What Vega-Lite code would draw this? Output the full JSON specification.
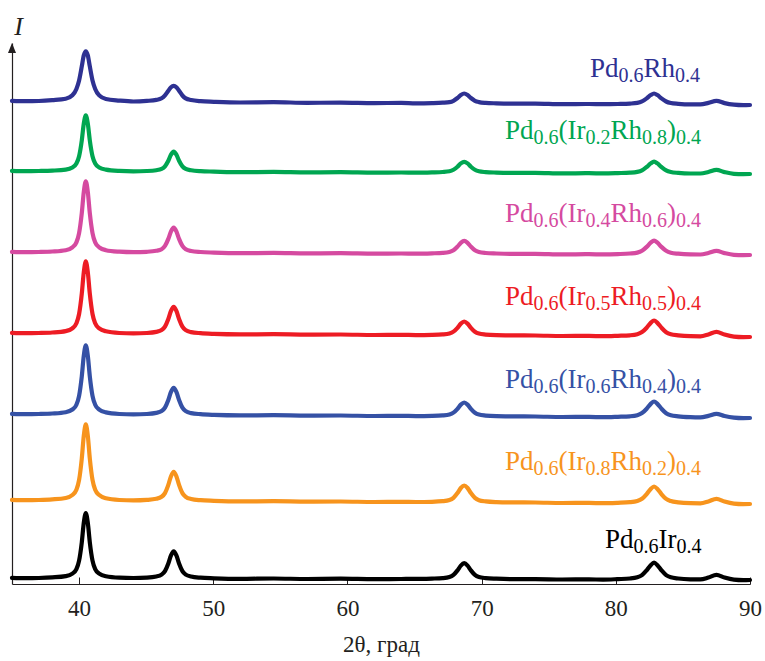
{
  "$schema": "https://vega.github.io/schema/vega-lite/v6.json",
  "autosize": "none",
  "width": 738,
  "height": 541,
  "padding": {"left": 12, "top": 43, "right": 15, "bottom": 77},
  "background": "white",
  "config": {"view": {"stroke": null}},
  "datasets": {
    "curves": [
      {"s":"PdRh","x":35,"y":483.2},{"s":"PdRh","x":36,"y":482.8},{"s":"PdRh","x":37,"y":483.0},{"s":"PdRh","x":38,"y":483.8},{"s":"PdRh","x":39,"y":485.2},{"s":"PdRh","x":39.5,"y":488.7},{"s":"PdRh","x":39.8,"y":495.1},{"s":"PdRh","x":40,"y":503.6},{"s":"PdRh","x":40.2,"y":517.6},{"s":"PdRh","x":40.35,"y":528.6},{"s":"PdRh","x":40.5,"y":532.6},{"s":"PdRh","x":40.65,"y":528.6},{"s":"PdRh","x":40.8,"y":517.6},{"s":"PdRh","x":41,"y":503.6},{"s":"PdRh","x":41.2,"y":495.1},{"s":"PdRh","x":41.5,"y":488.6},{"s":"PdRh","x":42,"y":485.0},{"s":"PdRh","x":43,"y":483.4},{"s":"PdRh","x":44.05,"y":482.5},{"s":"PdRh","x":45.05,"y":483.1},{"s":"PdRh","x":45.75,"y":484.1},{"s":"PdRh","x":46.15,"y":485.7},{"s":"PdRh","x":46.4,"y":488.6},{"s":"PdRh","x":46.65,"y":493.3},{"s":"PdRh","x":46.85,"y":496.8},{"s":"PdRh","x":47.05,"y":498.1},{"s":"PdRh","x":47.25,"y":496.8},{"s":"PdRh","x":47.45,"y":493.3},{"s":"PdRh","x":47.7,"y":488.5},{"s":"PdRh","x":47.95,"y":485.6},{"s":"PdRh","x":48.35,"y":484.0},{"s":"PdRh","x":49.05,"y":482.8},{"s":"PdRh","x":50.05,"y":482.2},{"s":"PdRh","x":52,"y":481.5},{"s":"PdRh","x":54.5,"y":481.8},{"s":"PdRh","x":57,"y":481.2},{"s":"PdRh","x":59.5,"y":481.4},{"s":"PdRh","x":62,"y":480.9},{"s":"PdRh","x":64,"y":481.1},{"s":"PdRh","x":65.1,"y":480.7},{"s":"PdRh","x":66.3,"y":480.9},{"s":"PdRh","x":67.1,"y":481.3},{"s":"PdRh","x":67.6,"y":481.9},{"s":"PdRh","x":67.9,"y":483.2},{"s":"PdRh","x":68.2,"y":486.0},{"s":"PdRh","x":68.45,"y":489.0},{"s":"PdRh","x":68.7,"y":490.5},{"s":"PdRh","x":68.95,"y":489.0},{"s":"PdRh","x":69.2,"y":486.0},{"s":"PdRh","x":69.5,"y":483.2},{"s":"PdRh","x":69.8,"y":481.9},{"s":"PdRh","x":70.3,"y":481.1},{"s":"PdRh","x":71.1,"y":480.7},{"s":"PdRh","x":72.3,"y":480.4},{"s":"PdRh","x":74,"y":480.4},{"s":"PdRh","x":76,"y":479.8},{"s":"PdRh","x":78,"y":480.0},{"s":"PdRh","x":79.05,"y":479.8},{"s":"PdRh","x":80.15,"y":480.0},{"s":"PdRh","x":81.05,"y":480.4},{"s":"PdRh","x":81.6,"y":481.1},{"s":"PdRh","x":81.95,"y":482.6},{"s":"PdRh","x":82.3,"y":485.6},{"s":"PdRh","x":82.6,"y":488.9},{"s":"PdRh","x":82.85,"y":490.5},{"s":"PdRh","x":83.1,"y":488.9},{"s":"PdRh","x":83.4,"y":485.6},{"s":"PdRh","x":83.75,"y":482.5},{"s":"PdRh","x":84.1,"y":481.0},{"s":"PdRh","x":84.65,"y":480.2},{"s":"PdRh","x":85.55,"y":479.6},{"s":"PdRh","x":86.3,"y":479.6},{"s":"PdRh","x":86.9,"y":481.1},{"s":"PdRh","x":87.5,"y":483.2},{"s":"PdRh","x":88.1,"y":480.9},{"s":"PdRh","x":88.8,"y":479.3},{"s":"PdRh","x":89.5,"y":478.8},{"s":"PdRh","x":90,"y":479.0},

      {"s":"Ir02","x":35,"y":413.2},{"s":"Ir02","x":36,"y":412.8},{"s":"Ir02","x":37,"y":413.0},{"s":"Ir02","x":38,"y":413.4},{"s":"Ir02","x":39,"y":414.4},{"s":"Ir02","x":39.5,"y":416.6},{"s":"Ir02","x":39.8,"y":420.5},{"s":"Ir02","x":40,"y":427.8},{"s":"Ir02","x":40.2,"y":443.5},{"s":"Ir02","x":40.35,"y":460.3},{"s":"Ir02","x":40.5,"y":468.7},{"s":"Ir02","x":40.65,"y":460.3},{"s":"Ir02","x":40.8,"y":443.5},{"s":"Ir02","x":41,"y":427.8},{"s":"Ir02","x":41.2,"y":420.5},{"s":"Ir02","x":41.5,"y":416.6},{"s":"Ir02","x":42,"y":414.4},{"s":"Ir02","x":43,"y":413.1},{"s":"Ir02","x":44.05,"y":412.7},{"s":"Ir02","x":45.05,"y":413.0},{"s":"Ir02","x":45.75,"y":413.8},{"s":"Ir02","x":46.15,"y":415.1},{"s":"Ir02","x":46.4,"y":417.7},{"s":"Ir02","x":46.65,"y":423.3},{"s":"Ir02","x":46.85,"y":429.3},{"s":"Ir02","x":47.05,"y":432.3},{"s":"Ir02","x":47.25,"y":429.3},{"s":"Ir02","x":47.45,"y":423.3},{"s":"Ir02","x":47.7,"y":417.7},{"s":"Ir02","x":47.95,"y":415.1},{"s":"Ir02","x":48.35,"y":413.7},{"s":"Ir02","x":49.05,"y":412.8},{"s":"Ir02","x":50.05,"y":412.4},{"s":"Ir02","x":52,"y":411.8},{"s":"Ir02","x":54.5,"y":412.1},{"s":"Ir02","x":57,"y":411.6},{"s":"Ir02","x":59.5,"y":411.8},{"s":"Ir02","x":62,"y":411.3},{"s":"Ir02","x":64,"y":411.5},{"s":"Ir02","x":65.1,"y":411.3},{"s":"Ir02","x":66.3,"y":411.6},{"s":"Ir02","x":67.1,"y":412.0},{"s":"Ir02","x":67.6,"y":412.7},{"s":"Ir02","x":67.9,"y":414.2},{"s":"Ir02","x":68.2,"y":417.3},{"s":"Ir02","x":68.45,"y":420.6},{"s":"Ir02","x":68.7,"y":422.2},{"s":"Ir02","x":68.95,"y":420.6},{"s":"Ir02","x":69.2,"y":417.3},{"s":"Ir02","x":69.5,"y":414.2},{"s":"Ir02","x":69.8,"y":412.7},{"s":"Ir02","x":70.3,"y":411.9},{"s":"Ir02","x":71.1,"y":411.4},{"s":"Ir02","x":72.3,"y":411.1},{"s":"Ir02","x":74,"y":411.2},{"s":"Ir02","x":76,"y":410.6},{"s":"Ir02","x":78,"y":410.8},{"s":"Ir02","x":79.05,"y":410.6},{"s":"Ir02","x":80.15,"y":410.9},{"s":"Ir02","x":81.05,"y":411.3},{"s":"Ir02","x":81.6,"y":412.1},{"s":"Ir02","x":81.95,"y":413.6},{"s":"Ir02","x":82.3,"y":417.0},{"s":"Ir02","x":82.6,"y":420.6},{"s":"Ir02","x":82.85,"y":422.4},{"s":"Ir02","x":83.1,"y":420.6},{"s":"Ir02","x":83.4,"y":417.0},{"s":"Ir02","x":83.75,"y":413.6},{"s":"Ir02","x":84.1,"y":412.0},{"s":"Ir02","x":84.65,"y":411.1},{"s":"Ir02","x":85.55,"y":410.5},{"s":"Ir02","x":86.3,"y":410.5},{"s":"Ir02","x":86.9,"y":412.0},{"s":"Ir02","x":87.5,"y":414.1},{"s":"Ir02","x":88.1,"y":411.9},{"s":"Ir02","x":88.8,"y":410.2},{"s":"Ir02","x":89.5,"y":409.9},{"s":"Ir02","x":90,"y":410.0},

      {"s":"Ir04","x":35,"y":332.2},{"s":"Ir04","x":36,"y":331.8},{"s":"Ir04","x":37,"y":332.0},{"s":"Ir04","x":38,"y":332.5},{"s":"Ir04","x":39,"y":333.8},{"s":"Ir04","x":39.5,"y":336.7},{"s":"Ir04","x":39.8,"y":341.6},{"s":"Ir04","x":40,"y":350.9},{"s":"Ir04","x":40.2,"y":370.7},{"s":"Ir04","x":40.35,"y":392.1},{"s":"Ir04","x":40.5,"y":402.7},{"s":"Ir04","x":40.65,"y":392.1},{"s":"Ir04","x":40.8,"y":370.7},{"s":"Ir04","x":41,"y":350.9},{"s":"Ir04","x":41.2,"y":341.6},{"s":"Ir04","x":41.5,"y":336.7},{"s":"Ir04","x":42,"y":333.8},{"s":"Ir04","x":43,"y":332.3},{"s":"Ir04","x":44.05,"y":331.8},{"s":"Ir04","x":45.05,"y":332.2},{"s":"Ir04","x":45.75,"y":333.2},{"s":"Ir04","x":46.15,"y":334.8},{"s":"Ir04","x":46.4,"y":338.1},{"s":"Ir04","x":46.65,"y":345.1},{"s":"Ir04","x":46.85,"y":352.6},{"s":"Ir04","x":47.05,"y":356.3},{"s":"Ir04","x":47.25,"y":352.6},{"s":"Ir04","x":47.45,"y":345.1},{"s":"Ir04","x":47.7,"y":338.1},{"s":"Ir04","x":47.95,"y":334.8},{"s":"Ir04","x":48.35,"y":333.0},{"s":"Ir04","x":49.05,"y":332.0},{"s":"Ir04","x":50.05,"y":331.4},{"s":"Ir04","x":52,"y":330.8},{"s":"Ir04","x":54.5,"y":331.1},{"s":"Ir04","x":57,"y":330.6},{"s":"Ir04","x":59.5,"y":330.8},{"s":"Ir04","x":62,"y":330.3},{"s":"Ir04","x":64,"y":330.5},{"s":"Ir04","x":65.1,"y":330.4},{"s":"Ir04","x":66.3,"y":330.7},{"s":"Ir04","x":67.1,"y":331.1},{"s":"Ir04","x":67.6,"y":332.0},{"s":"Ir04","x":67.9,"y":333.7},{"s":"Ir04","x":68.2,"y":337.4},{"s":"Ir04","x":68.45,"y":341.2},{"s":"Ir04","x":68.7,"y":343.2},{"s":"Ir04","x":68.95,"y":341.2},{"s":"Ir04","x":69.2,"y":337.4},{"s":"Ir04","x":69.5,"y":333.7},{"s":"Ir04","x":69.8,"y":332.0},{"s":"Ir04","x":70.3,"y":331.0},{"s":"Ir04","x":71.1,"y":330.5},{"s":"Ir04","x":72.3,"y":330.1},{"s":"Ir04","x":74,"y":330.2},{"s":"Ir04","x":76,"y":329.6},{"s":"Ir04","x":78,"y":329.8},{"s":"Ir04","x":79.05,"y":329.6},{"s":"Ir04","x":80.15,"y":329.9},{"s":"Ir04","x":81.05,"y":330.5},{"s":"Ir04","x":81.6,"y":331.4},{"s":"Ir04","x":81.95,"y":333.2},{"s":"Ir04","x":82.3,"y":337.1},{"s":"Ir04","x":82.6,"y":341.3},{"s":"Ir04","x":82.85,"y":343.4},{"s":"Ir04","x":83.1,"y":341.3},{"s":"Ir04","x":83.4,"y":337.1},{"s":"Ir04","x":83.75,"y":333.2},{"s":"Ir04","x":84.1,"y":331.3},{"s":"Ir04","x":84.65,"y":330.3},{"s":"Ir04","x":85.55,"y":329.6},{"s":"Ir04","x":86.3,"y":329.5},{"s":"Ir04","x":86.9,"y":331.0},{"s":"Ir04","x":87.5,"y":333.1},{"s":"Ir04","x":88.1,"y":330.9},{"s":"Ir04","x":88.8,"y":329.2},{"s":"Ir04","x":89.5,"y":328.9},{"s":"Ir04","x":90,"y":329.0},

      {"s":"Ir05","x":35,"y":251.2},{"s":"Ir05","x":36,"y":250.8},{"s":"Ir05","x":37,"y":251.0},{"s":"Ir05","x":38,"y":251.5},{"s":"Ir05","x":39,"y":252.9},{"s":"Ir05","x":39.5,"y":255.7},{"s":"Ir05","x":39.8,"y":260.7},{"s":"Ir05","x":40,"y":270.0},{"s":"Ir05","x":40.2,"y":290.2},{"s":"Ir05","x":40.35,"y":311.8},{"s":"Ir05","x":40.5,"y":322.6},{"s":"Ir05","x":40.65,"y":311.8},{"s":"Ir05","x":40.8,"y":290.2},{"s":"Ir05","x":41,"y":270.0},{"s":"Ir05","x":41.2,"y":260.7},{"s":"Ir05","x":41.5,"y":255.6},{"s":"Ir05","x":42,"y":252.7},{"s":"Ir05","x":43,"y":251.0},{"s":"Ir05","x":44.05,"y":250.6},{"s":"Ir05","x":45.05,"y":251.0},{"s":"Ir05","x":45.75,"y":252.1},{"s":"Ir05","x":46.15,"y":253.9},{"s":"Ir05","x":46.4,"y":257.4},{"s":"Ir05","x":46.65,"y":265.0},{"s":"Ir05","x":46.85,"y":273.1},{"s":"Ir05","x":47.05,"y":277.1},{"s":"Ir05","x":47.25,"y":273.1},{"s":"Ir05","x":47.45,"y":265.0},{"s":"Ir05","x":47.7,"y":257.4},{"s":"Ir05","x":47.95,"y":253.9},{"s":"Ir05","x":48.35,"y":251.9},{"s":"Ir05","x":49.05,"y":250.8},{"s":"Ir05","x":50.05,"y":250.1},{"s":"Ir05","x":52,"y":249.6},{"s":"Ir05","x":54.5,"y":249.8},{"s":"Ir05","x":57,"y":249.4},{"s":"Ir05","x":59.5,"y":249.5},{"s":"Ir05","x":62,"y":249.0},{"s":"Ir05","x":64,"y":249.2},{"s":"Ir05","x":65.1,"y":248.9},{"s":"Ir05","x":66.3,"y":249.1},{"s":"Ir05","x":67.1,"y":249.6},{"s":"Ir05","x":67.6,"y":250.6},{"s":"Ir05","x":67.9,"y":252.4},{"s":"Ir05","x":68.2,"y":256.2},{"s":"Ir05","x":68.45,"y":260.4},{"s":"Ir05","x":68.7,"y":262.5},{"s":"Ir05","x":68.95,"y":260.4},{"s":"Ir05","x":69.2,"y":256.2},{"s":"Ir05","x":69.5,"y":252.3},{"s":"Ir05","x":69.8,"y":250.4},{"s":"Ir05","x":70.3,"y":249.4},{"s":"Ir05","x":71.1,"y":248.8},{"s":"Ir05","x":72.3,"y":248.6},{"s":"Ir05","x":74,"y":248.5},{"s":"Ir05","x":76,"y":248.0},{"s":"Ir05","x":78,"y":248.1},{"s":"Ir05","x":79.05,"y":247.8},{"s":"Ir05","x":80.15,"y":248.2},{"s":"Ir05","x":81.05,"y":248.7},{"s":"Ir05","x":81.6,"y":249.8},{"s":"Ir05","x":81.95,"y":251.9},{"s":"Ir05","x":82.3,"y":256.3},{"s":"Ir05","x":82.6,"y":261.1},{"s":"Ir05","x":82.85,"y":263.5},{"s":"Ir05","x":83.1,"y":261.1},{"s":"Ir05","x":83.4,"y":256.3},{"s":"Ir05","x":83.75,"y":251.8},{"s":"Ir05","x":84.1,"y":249.7},{"s":"Ir05","x":84.65,"y":248.6},{"s":"Ir05","x":85.55,"y":247.8},{"s":"Ir05","x":86.3,"y":247.7},{"s":"Ir05","x":86.9,"y":249.6},{"s":"Ir05","x":87.5,"y":252.2},{"s":"Ir05","x":88.1,"y":249.5},{"s":"Ir05","x":88.8,"y":247.4},{"s":"Ir05","x":89.5,"y":246.9},{"s":"Ir05","x":90,"y":247.0},

      {"s":"Ir06","x":35,"y":170.2},{"s":"Ir06","x":36,"y":169.8},{"s":"Ir06","x":37,"y":170.0},{"s":"Ir06","x":38,"y":170.5},{"s":"Ir06","x":39,"y":171.8},{"s":"Ir06","x":39.5,"y":174.5},{"s":"Ir06","x":39.8,"y":179.3},{"s":"Ir06","x":40,"y":188.2},{"s":"Ir06","x":40.2,"y":207.6},{"s":"Ir06","x":40.35,"y":228.3},{"s":"Ir06","x":40.5,"y":238.6},{"s":"Ir06","x":40.65,"y":228.3},{"s":"Ir06","x":40.8,"y":207.6},{"s":"Ir06","x":41,"y":188.2},{"s":"Ir06","x":41.2,"y":179.3},{"s":"Ir06","x":41.5,"y":174.4},{"s":"Ir06","x":42,"y":171.6},{"s":"Ir06","x":43,"y":170.0},{"s":"Ir06","x":44.05,"y":169.6},{"s":"Ir06","x":45.05,"y":170.0},{"s":"Ir06","x":45.75,"y":171.1},{"s":"Ir06","x":46.15,"y":172.9},{"s":"Ir06","x":46.4,"y":176.4},{"s":"Ir06","x":46.65,"y":184.0},{"s":"Ir06","x":46.85,"y":192.1},{"s":"Ir06","x":47.05,"y":196.1},{"s":"Ir06","x":47.25,"y":192.1},{"s":"Ir06","x":47.45,"y":184.0},{"s":"Ir06","x":47.7,"y":176.4},{"s":"Ir06","x":47.95,"y":172.9},{"s":"Ir06","x":48.35,"y":170.9},{"s":"Ir06","x":49.05,"y":169.8},{"s":"Ir06","x":50.05,"y":169.1},{"s":"Ir06","x":52,"y":168.6},{"s":"Ir06","x":54.5,"y":168.8},{"s":"Ir06","x":57,"y":168.4},{"s":"Ir06","x":59.5,"y":168.5},{"s":"Ir06","x":62,"y":168.0},{"s":"Ir06","x":64,"y":168.2},{"s":"Ir06","x":65.1,"y":167.9},{"s":"Ir06","x":66.3,"y":168.1},{"s":"Ir06","x":67.1,"y":168.6},{"s":"Ir06","x":67.6,"y":169.6},{"s":"Ir06","x":67.9,"y":171.4},{"s":"Ir06","x":68.2,"y":175.2},{"s":"Ir06","x":68.45,"y":179.4},{"s":"Ir06","x":68.7,"y":181.5},{"s":"Ir06","x":68.95,"y":179.4},{"s":"Ir06","x":69.2,"y":175.2},{"s":"Ir06","x":69.5,"y":171.3},{"s":"Ir06","x":69.8,"y":169.4},{"s":"Ir06","x":70.3,"y":168.4},{"s":"Ir06","x":71.1,"y":167.8},{"s":"Ir06","x":72.3,"y":167.6},{"s":"Ir06","x":74,"y":167.5},{"s":"Ir06","x":76,"y":167.0},{"s":"Ir06","x":78,"y":167.1},{"s":"Ir06","x":79.05,"y":166.8},{"s":"Ir06","x":80.15,"y":167.2},{"s":"Ir06","x":81.05,"y":167.7},{"s":"Ir06","x":81.6,"y":168.8},{"s":"Ir06","x":81.95,"y":170.9},{"s":"Ir06","x":82.3,"y":175.3},{"s":"Ir06","x":82.6,"y":180.1},{"s":"Ir06","x":82.85,"y":182.5},{"s":"Ir06","x":83.1,"y":180.1},{"s":"Ir06","x":83.4,"y":175.3},{"s":"Ir06","x":83.75,"y":170.8},{"s":"Ir06","x":84.1,"y":168.7},{"s":"Ir06","x":84.65,"y":167.6},{"s":"Ir06","x":85.55,"y":166.8},{"s":"Ir06","x":86.3,"y":166.6},{"s":"Ir06","x":86.9,"y":168.1},{"s":"Ir06","x":87.5,"y":170.2},{"s":"Ir06","x":88.1,"y":168.0},{"s":"Ir06","x":88.8,"y":166.4},{"s":"Ir06","x":89.5,"y":165.9},{"s":"Ir06","x":90,"y":166.0},

      {"s":"Ir08","x":35,"y":84.2},{"s":"Ir08","x":36,"y":83.8},{"s":"Ir08","x":37,"y":84.0},{"s":"Ir08","x":38,"y":84.6},{"s":"Ir08","x":39,"y":86.0},{"s":"Ir08","x":39.5,"y":89.0},{"s":"Ir08","x":39.8,"y":94.2},{"s":"Ir08","x":40,"y":104.1},{"s":"Ir08","x":40.2,"y":125.4},{"s":"Ir08","x":40.35,"y":148.2},{"s":"Ir08","x":40.5,"y":159.6},{"s":"Ir08","x":40.65,"y":148.2},{"s":"Ir08","x":40.8,"y":125.4},{"s":"Ir08","x":41,"y":104.1},{"s":"Ir08","x":41.2,"y":94.2},{"s":"Ir08","x":41.5,"y":88.9},{"s":"Ir08","x":42,"y":85.7},{"s":"Ir08","x":43,"y":84.0},{"s":"Ir08","x":44.05,"y":83.6},{"s":"Ir08","x":45.05,"y":84.1},{"s":"Ir08","x":45.75,"y":85.2},{"s":"Ir08","x":46.15,"y":87.2},{"s":"Ir08","x":46.4,"y":90.9},{"s":"Ir08","x":46.65,"y":99.1},{"s":"Ir08","x":46.85,"y":107.8},{"s":"Ir08","x":47.05,"y":112.1},{"s":"Ir08","x":47.25,"y":107.8},{"s":"Ir08","x":47.45,"y":99.1},{"s":"Ir08","x":47.7,"y":90.9},{"s":"Ir08","x":47.95,"y":87.2},{"s":"Ir08","x":48.35,"y":85.0},{"s":"Ir08","x":49.05,"y":83.8},{"s":"Ir08","x":50.05,"y":83.2},{"s":"Ir08","x":52,"y":82.6},{"s":"Ir08","x":54.5,"y":82.8},{"s":"Ir08","x":57,"y":82.4},{"s":"Ir08","x":59.5,"y":82.5},{"s":"Ir08","x":62,"y":82.0},{"s":"Ir08","x":64,"y":82.2},{"s":"Ir08","x":65.1,"y":82.0},{"s":"Ir08","x":66.3,"y":82.2},{"s":"Ir08","x":67.1,"y":82.8},{"s":"Ir08","x":67.6,"y":84.0},{"s":"Ir08","x":67.9,"y":86.2},{"s":"Ir08","x":68.2,"y":90.9},{"s":"Ir08","x":68.45,"y":96.0},{"s":"Ir08","x":68.7,"y":98.5},{"s":"Ir08","x":68.95,"y":96.0},{"s":"Ir08","x":69.2,"y":90.9},{"s":"Ir08","x":69.5,"y":86.1},{"s":"Ir08","x":69.8,"y":83.8},{"s":"Ir08","x":70.3,"y":82.6},{"s":"Ir08","x":71.1,"y":81.9},{"s":"Ir08","x":72.3,"y":81.6},{"s":"Ir08","x":74,"y":81.5},{"s":"Ir08","x":76,"y":81.0},{"s":"Ir08","x":78,"y":81.1},{"s":"Ir08","x":79.05,"y":80.8},{"s":"Ir08","x":80.15,"y":81.2},{"s":"Ir08","x":81.05,"y":81.8},{"s":"Ir08","x":81.6,"y":83.0},{"s":"Ir08","x":81.95,"y":85.2},{"s":"Ir08","x":82.3,"y":89.9},{"s":"Ir08","x":82.6,"y":95.0},{"s":"Ir08","x":82.85,"y":97.5},{"s":"Ir08","x":83.1,"y":95.0},{"s":"Ir08","x":83.4,"y":89.9},{"s":"Ir08","x":83.75,"y":85.1},{"s":"Ir08","x":84.1,"y":82.9},{"s":"Ir08","x":84.65,"y":81.6},{"s":"Ir08","x":85.55,"y":80.8},{"s":"Ir08","x":86.3,"y":80.7},{"s":"Ir08","x":86.9,"y":82.6},{"s":"Ir08","x":87.5,"y":85.2},{"s":"Ir08","x":88.1,"y":82.5},{"s":"Ir08","x":88.8,"y":80.4},{"s":"Ir08","x":89.5,"y":79.9},{"s":"Ir08","x":90,"y":80.0},

      {"s":"PdIr","x":35,"y":6.2},{"s":"PdIr","x":36,"y":5.8},{"s":"PdIr","x":37,"y":6.0},{"s":"PdIr","x":38,"y":6.6},{"s":"PdIr","x":39,"y":7.9},{"s":"PdIr","x":39.5,"y":10.4},{"s":"PdIr","x":39.8,"y":14.9},{"s":"PdIr","x":40,"y":23.4},{"s":"PdIr","x":40.2,"y":41.6},{"s":"PdIr","x":40.35,"y":61.1},{"s":"PdIr","x":40.5,"y":70.8},{"s":"PdIr","x":40.65,"y":61.1},{"s":"PdIr","x":40.8,"y":41.6},{"s":"PdIr","x":41,"y":23.4},{"s":"PdIr","x":41.2,"y":14.9},{"s":"PdIr","x":41.5,"y":10.4},{"s":"PdIr","x":42,"y":7.7},{"s":"PdIr","x":43,"y":6.3},{"s":"PdIr","x":44.05,"y":6.0},{"s":"PdIr","x":45.05,"y":6.4},{"s":"PdIr","x":45.75,"y":7.5},{"s":"PdIr","x":46.15,"y":9.4},{"s":"PdIr","x":46.4,"y":12.9},{"s":"PdIr","x":46.65,"y":20.5},{"s":"PdIr","x":46.85,"y":28.6},{"s":"PdIr","x":47.05,"y":32.6},{"s":"PdIr","x":47.25,"y":28.6},{"s":"PdIr","x":47.45,"y":20.5},{"s":"PdIr","x":47.7,"y":12.9},{"s":"PdIr","x":47.95,"y":9.4},{"s":"PdIr","x":48.35,"y":7.5},{"s":"PdIr","x":49.05,"y":6.3},{"s":"PdIr","x":50.05,"y":5.7},{"s":"PdIr","x":52,"y":5.1},{"s":"PdIr","x":54.5,"y":5.5},{"s":"PdIr","x":57,"y":5.0},{"s":"PdIr","x":59.5,"y":5.3},{"s":"PdIr","x":62,"y":4.8},{"s":"PdIr","x":64,"y":5.0},{"s":"PdIr","x":65.1,"y":5.1},{"s":"PdIr","x":66.3,"y":5.4},{"s":"PdIr","x":67.1,"y":5.9},{"s":"PdIr","x":67.6,"y":7.0},{"s":"PdIr","x":67.9,"y":9.1},{"s":"PdIr","x":68.2,"y":13.6},{"s":"PdIr","x":68.45,"y":18.4},{"s":"PdIr","x":68.7,"y":20.8},{"s":"PdIr","x":68.95,"y":18.4},{"s":"PdIr","x":69.2,"y":13.6},{"s":"PdIr","x":69.5,"y":9.1},{"s":"PdIr","x":69.8,"y":7.0},{"s":"PdIr","x":70.3,"y":5.9},{"s":"PdIr","x":71.1,"y":5.3},{"s":"PdIr","x":72.3,"y":4.9},{"s":"PdIr","x":74,"y":4.9},{"s":"PdIr","x":76,"y":4.5},{"s":"PdIr","x":78,"y":4.6},{"s":"PdIr","x":79.05,"y":4.4},{"s":"PdIr","x":80.15,"y":4.9},{"s":"PdIr","x":81.05,"y":5.5},{"s":"PdIr","x":81.6,"y":6.7},{"s":"PdIr","x":81.95,"y":8.9},{"s":"PdIr","x":82.3,"y":13.7},{"s":"PdIr","x":82.6,"y":18.8},{"s":"PdIr","x":82.85,"y":21.3},{"s":"PdIr","x":83.1,"y":18.8},{"s":"PdIr","x":83.4,"y":13.7},{"s":"PdIr","x":83.75,"y":8.9},{"s":"PdIr","x":84.1,"y":6.7},{"s":"PdIr","x":84.65,"y":5.5},{"s":"PdIr","x":85.55,"y":4.7},{"s":"PdIr","x":86.3,"y":4.6},{"s":"PdIr","x":86.9,"y":6.5},{"s":"PdIr","x":87.5,"y":9.1},{"s":"PdIr","x":88.1,"y":6.4},{"s":"PdIr","x":88.8,"y":4.3},{"s":"PdIr","x":89.5,"y":3.8},{"s":"PdIr","x":90,"y":4.0}
    ],
    "mainText": [
      {"s":"PdRh","x":78.08,"y":507,"t":"Pd"},{"s":"PdRh","x":82.06,"y":507,"t":"Rh"},
      {"s":"Ir02","x":71.74,"y":445,"t":"Pd"},{"s":"Ir02","x":75.73,"y":445,"t":"(Ir"},{"s":"Ir02","x":79.6,"y":445,"t":"Rh"},{"s":"Ir02","x":83.82,"y":445,"t":")"},
      {"s":"Ir04","x":71.74,"y":362,"t":"Pd"},{"s":"Ir04","x":75.73,"y":362,"t":"(Ir"},{"s":"Ir04","x":79.6,"y":362,"t":"Rh"},{"s":"Ir04","x":83.82,"y":362,"t":")"},
      {"s":"Ir05","x":71.74,"y":279,"t":"Pd"},{"s":"Ir05","x":75.73,"y":279,"t":"(Ir"},{"s":"Ir05","x":79.6,"y":279,"t":"Rh"},{"s":"Ir05","x":83.82,"y":279,"t":")"},
      {"s":"Ir06","x":71.74,"y":196,"t":"Pd"},{"s":"Ir06","x":75.73,"y":196,"t":"(Ir"},{"s":"Ir06","x":79.6,"y":196,"t":"Rh"},{"s":"Ir06","x":83.82,"y":196,"t":")"},
      {"s":"Ir08","x":71.74,"y":114,"t":"Pd"},{"s":"Ir08","x":75.73,"y":114,"t":"(Ir"},{"s":"Ir08","x":79.6,"y":114,"t":"Rh"},{"s":"Ir08","x":83.82,"y":114,"t":")"},
      {"s":"PdIr","x":79.19,"y":36,"t":"Pd"},{"s":"PdIr","x":83.18,"y":36,"t":"Ir"}
    ],
    "subText": [
      {"s":"PdRh","x":80.2,"y":507,"t":"0.6"},{"s":"PdRh","x":84.41,"y":507,"t":"0.4"},
      {"s":"Ir02","x":73.87,"y":445,"t":"0.6"},{"s":"Ir02","x":77.74,"y":445,"t":"0.2"},{"s":"Ir02","x":81.95,"y":445,"t":"0.8"},{"s":"Ir02","x":84.49,"y":445,"t":"0.4"},
      {"s":"Ir04","x":73.87,"y":362,"t":"0.6"},{"s":"Ir04","x":77.74,"y":362,"t":"0.4"},{"s":"Ir04","x":81.95,"y":362,"t":"0.6"},{"s":"Ir04","x":84.49,"y":362,"t":"0.4"},
      {"s":"Ir05","x":73.87,"y":279,"t":"0.6"},{"s":"Ir05","x":77.74,"y":279,"t":"0.5"},{"s":"Ir05","x":81.95,"y":279,"t":"0.5"},{"s":"Ir05","x":84.49,"y":279,"t":"0.4"},
      {"s":"Ir06","x":73.87,"y":196,"t":"0.6"},{"s":"Ir06","x":77.74,"y":196,"t":"0.6"},{"s":"Ir06","x":81.95,"y":196,"t":"0.4"},{"s":"Ir06","x":84.49,"y":196,"t":"0.4"},
      {"s":"Ir08","x":73.87,"y":114,"t":"0.6"},{"s":"Ir08","x":77.74,"y":114,"t":"0.8"},{"s":"Ir08","x":81.95,"y":114,"t":"0.2"},{"s":"Ir08","x":84.49,"y":114,"t":"0.4"},
      {"s":"PdIr","x":81.32,"y":36,"t":"0.6"},{"s":"PdIr","x":84.52,"y":36,"t":"0.4"}
    ],
    "arrow": [{"x":35,"y":536}]
  },
  "layer": [
    {
      "data": {"name": "curves"},
      "mark": {"type": "line", "strokeWidth": 4.2, "interpolate": "monotone", "strokeJoin": "round", "strokeCap": "round"},
      "encoding": {
        "x": {"field": "x", "type": "quantitative",
          "scale": {"domain": [35, 90], "nice": false, "zero": false},
          "axis": {"values": [40, 50, 60, 70, 80, 90], "grid": false, "domainColor": "#231f20", "domainWidth": 1.2,
            "tickColor": "#231f20", "tickSize": -7, "tickWidth": 1,
            "labelFont": "Liberation Serif, Times New Roman, serif", "labelFontSize": 23, "labelColor": "#231f20", "labelPadding": 20, "labelFlush": false,
            "title": "2θ, град", "titleFont": "Liberation Serif, Times New Roman, serif", "titleFontSize": 23, "titleFontWeight": "normal", "titleColor": "#231f20", "titlePadding": 13}},
        "y": {"field": "y", "type": "quantitative",
          "scale": {"domain": [0, 541], "nice": false, "zero": false},
          "axis": {"grid": false, "ticks": false, "labels": false, "domainColor": "#231f20", "domainWidth": 1.2,
            "title": "I", "titleAngle": 0, "titleX": 6, "titleY": -17, "titleAlign": "center", "titleBaseline": "middle",
            "titleFont": "Liberation Serif, Times New Roman, serif", "titleFontStyle": "italic", "titleFontWeight": "normal", "titleFontSize": 26, "titleColor": "#231f20"}},
        "color": {"field": "s", "type": "nominal", "legend": null,
          "scale": {"domain": ["PdRh", "Ir02", "Ir04", "Ir05", "Ir06", "Ir08", "PdIr"],
                    "range": ["#2e3192", "#00a651", "#d54aa0", "#ed1c24", "#3551a5", "#f7941d", "#000000"]}},
        "detail": {"field": "s"}
      }
    },
    {
      "data": {"name": "mainText"},
      "mark": {"type": "text", "align": "left", "baseline": "alphabetic", "font": "Liberation Serif, Times New Roman, serif", "fontSize": 27},
      "encoding": {
        "x": {"field": "x", "type": "quantitative"},
        "y": {"field": "y", "type": "quantitative"},
        "text": {"field": "t"},
        "color": {"field": "s", "type": "nominal", "legend": null}
      }
    },
    {
      "data": {"name": "subText"},
      "mark": {"type": "text", "align": "left", "baseline": "alphabetic", "font": "Liberation Serif, Times New Roman, serif", "fontSize": 20, "dy": 5},
      "encoding": {
        "x": {"field": "x", "type": "quantitative"},
        "y": {"field": "y", "type": "quantitative"},
        "text": {"field": "t"},
        "color": {"field": "s", "type": "nominal", "legend": null}
      }
    },
    {
      "data": {"name": "arrow"},
      "mark": {"type": "point", "filled": true, "shape": "M -0.8 1 L 0 -1 L 0.8 1 Z", "size": 100, "color": "#231f20", "opacity": 1, "strokeWidth": 0},
      "encoding": {
        "x": {"field": "x", "type": "quantitative"},
        "y": {"field": "y", "type": "quantitative"}
      }
    }
  ]
}
